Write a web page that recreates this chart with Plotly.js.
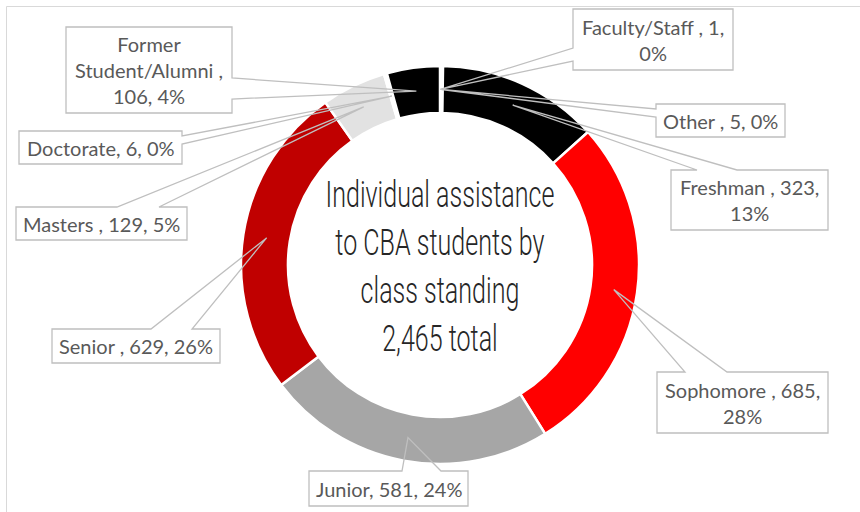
<!DOCTYPE html>
<html>
<head>
<meta charset="utf-8">
<script src="https://cdn.plot.ly/plotly-3.0.1.min.js"></script>
<style>html,body{margin:0;padding:0;background:#fff;}#chart{width:860px;height:512px;}</style>
</head>
<body>
<div id="chart"></div>
<script>
// ---- data ----
const categories = ["Faculty/Staff ", "Other ", "Freshman ", "Sophomore ", "Junior", "Senior ", "Masters ", "Doctorate", "Former Student/Alumni "];
const values = [1, 5, 323, 685, 581, 629, 129, 6, 106];
const sliceColors = ["#FFFFFF", "#FFFFFF", "#000000", "#FF0000", "#A6A6A6", "#C00000", "#E2E2E2", "#FFFFFF", "#000000"];
const titleLines = ["Individual assistance", "to CBA students by", "class standing"];

// ---- layout (pixel positions) ----
const W = 860, H = 512;
const CX = 440, CY = 265, R = 199, HOLE = 0.764;
// label boxes [x0, y0, x1, y1]
const boxes = [[573, 9, 733, 70], [656, 104, 785, 137], [671, 170, 828, 230], [657, 372, 828, 433],
               [309, 471, 468, 506], [52, 329, 220, 363], [16, 207, 187, 240], [19, 131, 182, 164], [66, 27, 232, 113]];
// pointer base: side of box and two positions along it
const pointerBase = [["left", 48, 61], ["left", 109, 117], ["top", 697, 737], ["top", 685, 727],
                     ["top", 402, 441], ["top", 151, 192], ["top", 117, 159], ["right", 136, 144], ["right", 78, 99]];
const wrapWidth = [18, 30, 16, 16, 30, 30, 30, 30, 16];

const px = x => x / W;
const py = y => 1 - y / H;

const total = values.reduce((a, b) => a + b, 0);

function wrap(str, width) {
  const words = str.split(" ").filter(w => w.length);
  const lines = [];
  let cur = "";
  for (const w of words) {
    if (!cur) cur = w;
    else if ((cur + " " + w).length <= width) cur += " " + w;
    else { lines.push(cur); cur = w; }
  }
  if (cur) lines.push(cur);
  return lines.join("<br>");
}

const shapes = [];
const annotations = [];

// outer frame
shapes.push({type: "rect", xref: "paper", yref: "paper", x0: px(6.5), y0: py(6.5), x1: px(880), y1: py(530),
             line: {color: "#D9D9D9", width: 1}, fillcolor: "rgba(0,0,0,0)", layer: "below"});

let cum = 0;
const ringMid = R * (1 + HOLE) / 2;
values.forEach((v, i) => {
  const mid = (cum + v / 2) / total * 2 * Math.PI;
  cum += v;
  const tx = CX + ringMid * Math.sin(mid);
  const ty = CY - ringMid * Math.cos(mid);
  const [x0, y0, x1, y1] = boxes[i];
  const [side, a, b] = pointerBase[i];
  let pts;
  if (side === "top") {
    pts = [[x0, y0], [a, y0], [tx, ty], [b, y0], [x1, y0], [x1, y1], [x0, y1]];
  } else if (side === "left") {
    pts = [[x0, y0], [x1, y0], [x1, y1], [x0, y1], [x0, b], [tx, ty], [x0, a]];
  } else {
    pts = [[x0, y0], [x1, y0], [x1, a], [tx, ty], [x1, b], [x1, y1], [x0, y1]];
  }
  const path = pts.map((p, k) => (k ? "L" : "M") + px(p[0]).toFixed(5) + "," + py(p[1]).toFixed(5)).join(" ") + " Z";
  shapes.push({type: "path", xref: "paper", yref: "paper", path: path,
               line: {color: "#BFBFBF", width: 1.3}, fillcolor: "rgba(0,0,0,0)", layer: "above"});
  const pct = Math.round(v / total * 100);
  const txt = wrap(categories[i] + ", " + v.toLocaleString("en-US") + ", " + pct + "%", wrapWidth[i]);
  annotations.push({xref: "paper", yref: "paper", x: px((x0 + x1) / 2), y: py((y0 + y1) / 2),
                    xanchor: "center", yanchor: "middle", showarrow: false, text: txt, align: "center",
                    font: {family: "Lato, 'Open Sans', sans-serif", size: 20, color: "#595959"}});
});

// center title
annotations.push({xref: "paper", yref: "paper", x: px(CX), y: py(CY + 1), xanchor: "center", yanchor: "middle",
                  showarrow: false, align: "center", name: "centerTitle",
                  text: titleLines.join("<br>") + "<br>" + total.toLocaleString("en-US") + " total",
                  font: {family: "Roboto, 'Liberation Sans', sans-serif", size: 37, weight: 300, color: "#262626"}});

const trace = {
  type: "pie",
  labels: categories,
  values: values,
  sort: false,
  direction: "clockwise",
  rotation: 0,
  hole: HOLE,
  textinfo: "none",
  hoverinfo: "label+value+percent",
  marker: {colors: sliceColors, line: {color: "#FFFFFF", width: 2.5}},
  domain: {x: [px(CX - R), px(CX + R)], y: [py(CY + R), py(CY - R)]},
  showlegend: false
};

const layout = {
  width: W, height: H,
  margin: {l: 0, r: 0, t: 0, b: 0},
  paper_bgcolor: "#FFFFFF",
  showlegend: false,
  shapes: shapes,
  annotations: annotations
};

Plotly.newPlot("chart", [trace], layout, {displayModeBar: false, staticPlot: true}).then(() => {
  const texts = document.querySelectorAll("text.annotation-text");
  texts.forEach(t => {
    if (t.textContent.indexOf("Individual") >= 0) {
      const bb = t.getBBox();
      const s = 229 / bb.width;
      const cx = bb.x + bb.width / 2;
      t.setAttribute("transform", `translate(${cx},0) scale(${s},1) translate(${-cx},0)`);
    }
  });
});
</script>
</body>
</html>
